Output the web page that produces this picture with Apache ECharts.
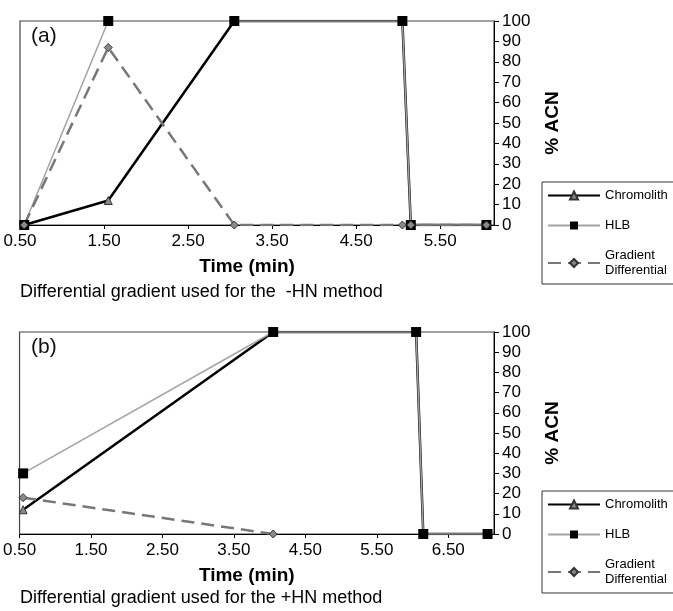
<!DOCTYPE html>
<html>
<head>
<meta charset="utf-8">
<script src="https://cdn.jsdelivr.net/npm/echarts@6/dist/echarts.min.js"></script>
<style>
  html, body { margin: 0; padding: 0; background: #fff; }
  #main { width: 673px; height: 611px; }
</style>
</head>
<body>
<div id="main"></div>
<script>
// panel (a): -HN method
var timeA = [0.55, 1.55, 3.05, 5.05, 5.15, 6.05];
var chromolithA = [0, 12, 100, 100, 0, 0];
var hlbA = [0, 100, 100, 100, 0, 0];
var gradientA = [0, 87, 0, 0, 0, 0];

// panel (b): +HN method
var timeB = [0.55, 4.05, 6.05, 6.15, 7.05];
var chromolithB = [12, 100, 100, 0, 0];
var hlbB = [30, 100, 100, 0, 0];
var gradTimeB = [0.55, 4.05];
var gradientB = [18, 0];

var yTicks = [0, 10, 20, 30, 40, 50, 60, 70, 80, 90, 100];

function pairs(xs, ys) {
  return xs.map(function (x, i) { return [x, ys[i]]; });
}

var font = 'Liberation Sans, Arial, sans-serif';

function xAxisFor(idx, max) {
  return {
    type: 'value', gridIndex: idx, min: 0.5, max: max, interval: 1,
    name: 'Time (min)', nameLocation: 'middle', nameGap: 32,
    nameTextStyle: { fontFamily: font, fontSize: 19, fontWeight: 'bold', color: '#000', padding: [0, 20, 0, 0] },
    axisLine: { lineStyle: { color: '#000', width: 1 } },
    axisTick: { length: 4, lineStyle: { color: '#000' } },
    axisLabel: {
      fontFamily: font, fontSize: 17, color: '#000', margin: 8, showMaxLabel: false,
      formatter: function (v) { return v.toFixed(2); }
    },
    splitLine: { show: false }
  };
}

function yAxisFor(idx) {
  return {
    type: 'value', gridIndex: idx, position: 'right', min: yTicks[0], max: yTicks[yTicks.length - 1], interval: 10,
    name: '% ACN', nameLocation: 'middle', nameRotate: 90, nameGap: 49,
    nameTextStyle: { fontFamily: font, fontSize: 19, fontWeight: 'bold', color: '#000' },
    axisLine: { show: true, lineStyle: { color: '#000', width: 1 } },
    axisTick: { show: true, length: 5, lineStyle: { color: '#000' } },
    axisLabel: { fontFamily: font, fontSize: 17, color: '#000', margin: 8 },
    splitLine: { show: false }
  };
}

function legendFor(top) {
  return {
    orient: 'vertical', left: 542, top: top,
    data: ['Chromolith', 'HLB', 'Gradient Differential'],
    backgroundColor: '#fff', borderColor: '#333', borderWidth: 1, borderRadius: 0,
    padding: [6, 6, 6, 5], itemWidth: 52, itemHeight: 10, itemGap: 15,
    textStyle: { fontFamily: font, fontSize: 13, color: '#000', lineHeight: 15 },
    formatter: function (name) {
      return name === 'Gradient Differential' ? 'Gradient\nDifferential' : name;
    }
  };
}

function seriesFor(idx, tC, c, tH, h, tG, g) {
  return [{
    name: 'Chromolith', type: 'line', xAxisIndex: idx, yAxisIndex: idx,
    data: pairs(tC, c), symbol: 'triangle', symbolSize: 8,
    lineStyle: { color: '#000', width: 2.5 },
    itemStyle: { color: '#8a8a8a', borderColor: '#333', borderWidth: 1 }
  }, {
    name: 'HLB', type: 'line', xAxisIndex: idx, yAxisIndex: idx,
    data: pairs(tH, h), symbol: 'rect', symbolSize: 10,
    lineStyle: { color: '#a3a3a3', width: 1.5 },
    itemStyle: { color: '#000', borderColor: '#000', borderWidth: 0 }
  }, {
    name: 'Gradient Differential', type: 'line', xAxisIndex: idx, yAxisIndex: idx,
    data: pairs(tG, g), symbol: 'diamond', symbolSize: 8,
    lineStyle: { color: '#777', width: 2.5, type: [13, 7] },
    itemStyle: { color: '#8a8a8a', borderColor: '#333', borderWidth: 1 }
  }];
}

var chart = echarts.init(document.getElementById('main'));
chart.setOption({
  animation: false,
  backgroundColor: '#fff',
  title: [
    { text: '(a)', left: 31, top: 26, padding: 0, textStyle: { fontFamily: font, fontSize: 21, fontWeight: 'normal', color: '#111' } },
    { text: '(b)', left: 31, top: 337, padding: 0, textStyle: { fontFamily: font, fontSize: 21, fontWeight: 'normal', color: '#111' } },
    { text: 'Differential gradient used for the  -HN method', left: 20, top: 283, padding: 0, textStyle: { fontFamily: font, fontSize: 18, fontWeight: 'normal', color: '#000' } },
    { text: 'Differential gradient used for the +HN method', left: 20, top: 589, padding: 0, textStyle: { fontFamily: font, fontSize: 18, fontWeight: 'normal', color: '#000' } }
  ],
  grid: [
    { left: 20, top: 21, right: 179, bottom: 386, show: true, borderColor: '#444', borderWidth: 1.2, backgroundColor: 'transparent' },
    { left: 19, top: 332, right: 179, bottom: 77, show: true, borderColor: '#444', borderWidth: 1.2, backgroundColor: 'transparent' }
  ],
  xAxis: [xAxisFor(0, 6.14), xAxisFor(1, 7.14)],
  yAxis: [yAxisFor(0), yAxisFor(1)],
  legend: [legendFor(182), legendFor(491)],
  series: seriesFor(0, timeA, chromolithA, timeA, hlbA, timeA, gradientA)
    .concat(seriesFor(1, timeB, chromolithB, timeB, hlbB, gradTimeB, gradientB))
});
</script>
</body>
</html>
